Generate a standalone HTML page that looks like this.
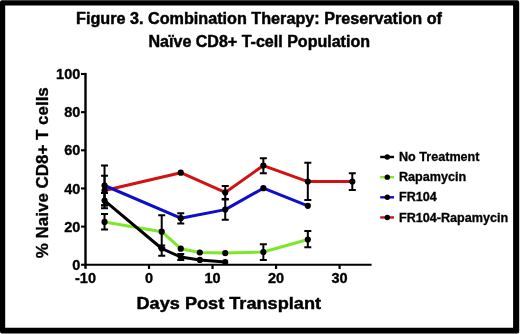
<!DOCTYPE html>
<html><head><meta charset="utf-8"><style>
html,body{margin:0;padding:0;background:#fff;}
body{width:520px;height:334px;position:relative;overflow:hidden;}
svg{position:absolute;left:0;top:0;will-change:transform;}
text{font-family:"Liberation Sans",sans-serif;font-weight:bold;fill:#000;}
.tl{font-size:14.5px;stroke:#000;stroke-width:0.35px;}
.lg{font-size:12.6px;stroke:#000;stroke-width:0.3px;}
.ti{font-size:16px;stroke:#000;stroke-width:0.45px;}
.xl{font-size:17.3px;stroke:#000;stroke-width:0.45px;}
.yl{font-size:17px;stroke:#000;stroke-width:0.35px;}
</style></head><body>
<svg width="520" height="334" viewBox="0 0 520 334">
<text x="76.0" y="23.8" class="ti" textLength="366" lengthAdjust="spacingAndGlyphs">Figure 3. Combination Therapy: Preservation of</text>
<text x="148.5" y="46.5" class="ti" textLength="221.5" lengthAdjust="spacingAndGlyphs">Naïve CD8+ T-cell Population</text>
<path fill="#000" fill-rule="evenodd" d="M2,0.2H517.2A2,2 0 0 1 519.2,2.2V331.5A2,2 0 0 1 517.2,333.5H2A2,2 0 0 1 0,331.5V2.2A2,2 0 0 1 2,0.2Z M5.2,5.6V327.7H513.1V5.6Z"/>
<path d="M85.5,72.9V268.8" stroke="#000" stroke-width="2.4" fill="none"/>
<path d="M84.3,264.75H371.6" stroke="#000" stroke-width="2.2" fill="none"/>
<path d="M81.0,264.75H86" stroke="#000" stroke-width="2.1" fill="none"/>
<text x="80.3" y="269.85" text-anchor="end" class="tl">0</text>
<path d="M81.0,226.60H86" stroke="#000" stroke-width="2.1" fill="none"/>
<text x="80.3" y="231.70" text-anchor="end" class="tl">20</text>
<path d="M81.0,188.45H86" stroke="#000" stroke-width="2.1" fill="none"/>
<text x="80.3" y="193.55" text-anchor="end" class="tl">40</text>
<path d="M81.0,150.30H86" stroke="#000" stroke-width="2.1" fill="none"/>
<text x="80.3" y="155.40" text-anchor="end" class="tl">60</text>
<path d="M81.0,112.15H86" stroke="#000" stroke-width="2.1" fill="none"/>
<text x="80.3" y="117.25" text-anchor="end" class="tl">80</text>
<path d="M81.0,74.00H86" stroke="#000" stroke-width="2.1" fill="none"/>
<text x="80.3" y="79.10" text-anchor="end" class="tl">100</text>
<path d="M149.00,264.5V269.0" stroke="#000" stroke-width="2.2" fill="none"/>
<path d="M212.53,264.5V269.0" stroke="#000" stroke-width="2.2" fill="none"/>
<path d="M276.06,264.5V269.0" stroke="#000" stroke-width="2.2" fill="none"/>
<path d="M339.59,264.5V269.0" stroke="#000" stroke-width="2.2" fill="none"/>
<text x="85.47" y="282.8" text-anchor="middle" class="tl">-10</text>
<text x="149.00" y="282.8" text-anchor="middle" class="tl">0</text>
<text x="212.53" y="282.8" text-anchor="middle" class="tl">10</text>
<text x="276.06" y="282.8" text-anchor="middle" class="tl">20</text>
<text x="339.59" y="282.8" text-anchor="middle" class="tl">30</text>
<path d="M104.53,190.50 L180.76,172.70 L225.24,192.40 L263.35,165.60 L307.82,181.60 L352.30,181.50" fill="none" stroke="#d01212" stroke-width="3.0" stroke-linejoin="round"/>
<path d="M104.53,185.50 L180.76,218.20 L225.24,209.60 L263.35,188.20 L307.82,205.80" fill="none" stroke="#0e0ec8" stroke-width="3.0" stroke-linejoin="round"/>
<path d="M104.53,221.90 L161.71,231.70 L180.76,248.70 L199.82,252.50 L225.24,253.10 L263.35,252.00 L307.82,239.50" fill="none" stroke="#7ce82a" stroke-width="3.0" stroke-linejoin="round"/>
<path d="M104.53,200.60 L161.71,248.50 L180.76,257.00 L199.82,259.90 L225.24,262.00" fill="none" stroke="#000000" stroke-width="3.0" stroke-linejoin="round"/>
<path d="M104.53,175.80V205.20M101.03,175.80H108.03M101.03,205.20H108.03" stroke="#000" stroke-width="2" fill="none"/>
<path d="M225.24,186.10V199.10M221.74,186.10H228.74M221.74,199.10H228.74" stroke="#000" stroke-width="2" fill="none"/>
<path d="M263.35,158.30V173.20M259.85,158.30H266.85M259.85,173.20H266.85" stroke="#000" stroke-width="2" fill="none"/>
<path d="M307.82,162.70V199.90M304.32,162.70H311.32M304.32,199.90H311.32" stroke="#000" stroke-width="2" fill="none"/>
<path d="M352.30,173.20V190.10M348.80,173.20H355.80M348.80,190.10H355.80" stroke="#000" stroke-width="2" fill="none"/>
<path d="M104.53,165.40V205.60M101.03,165.40H108.03M101.03,205.60H108.03" stroke="#000" stroke-width="2" fill="none"/>
<path d="M180.76,213.20V223.60M177.26,213.20H184.26M177.26,223.60H184.26" stroke="#000" stroke-width="2" fill="none"/>
<path d="M225.24,199.40V219.80M221.74,199.40H228.74M221.74,219.80H228.74" stroke="#000" stroke-width="2" fill="none"/>
<path d="M104.53,214.10V229.40M101.03,214.10H108.03M101.03,229.40H108.03" stroke="#000" stroke-width="2" fill="none"/>
<path d="M161.71,215.30V248.10M158.21,215.30H165.21M158.21,248.10H165.21" stroke="#000" stroke-width="2" fill="none"/>
<path d="M263.35,244.30V260.10M259.85,244.30H266.85M259.85,260.10H266.85" stroke="#000" stroke-width="2" fill="none"/>
<path d="M307.82,231.00V247.20M304.32,231.00H311.32M304.32,247.20H311.32" stroke="#000" stroke-width="2" fill="none"/>
<path d="M104.53,193.00V208.20M101.03,193.00H108.03M101.03,208.20H108.03" stroke="#000" stroke-width="2" fill="none"/>
<path d="M161.71,245.40V255.80M158.21,245.40H165.21M158.21,255.80H165.21" stroke="#000" stroke-width="2" fill="none"/>
<path d="M180.76,253.90V260.10M177.26,253.90H184.26M177.26,260.10H184.26" stroke="#000" stroke-width="2" fill="none"/>
<circle cx="104.53" cy="190.50" r="3.1" fill="#000"/>
<circle cx="180.76" cy="172.70" r="3.1" fill="#000"/>
<circle cx="225.24" cy="192.40" r="3.1" fill="#000"/>
<circle cx="263.35" cy="165.60" r="3.1" fill="#000"/>
<circle cx="307.82" cy="181.60" r="3.1" fill="#000"/>
<circle cx="352.30" cy="181.50" r="3.1" fill="#000"/>
<circle cx="104.53" cy="185.50" r="3.1" fill="#000"/>
<circle cx="180.76" cy="218.20" r="3.1" fill="#000"/>
<circle cx="225.24" cy="209.60" r="3.1" fill="#000"/>
<circle cx="263.35" cy="188.20" r="3.1" fill="#000"/>
<circle cx="307.82" cy="205.80" r="3.1" fill="#000"/>
<circle cx="104.53" cy="221.90" r="3.1" fill="#000"/>
<circle cx="161.71" cy="231.70" r="3.1" fill="#000"/>
<circle cx="180.76" cy="248.70" r="3.1" fill="#000"/>
<circle cx="199.82" cy="252.50" r="3.1" fill="#000"/>
<circle cx="225.24" cy="253.10" r="3.1" fill="#000"/>
<circle cx="263.35" cy="252.00" r="3.1" fill="#000"/>
<circle cx="307.82" cy="239.50" r="3.1" fill="#000"/>
<circle cx="104.53" cy="200.60" r="3.1" fill="#000"/>
<circle cx="161.71" cy="248.50" r="3.1" fill="#000"/>
<circle cx="180.76" cy="257.00" r="3.1" fill="#000"/>
<circle cx="199.82" cy="259.90" r="3.1" fill="#000"/>
<circle cx="225.24" cy="262.00" r="3.1" fill="#000"/>
<path d="M380.2,157.00H394.0" stroke="#000000" stroke-width="2.4"/>
<circle cx="387.3" cy="157.00" r="2.7" fill="#000"/>
<text x="399" y="161.10" class="lg">No Treatment</text>
<path d="M380.2,177.15H394.0" stroke="#7ce82a" stroke-width="2.4"/>
<circle cx="387.3" cy="177.15" r="2.7" fill="#000"/>
<text x="399" y="181.25" class="lg">Rapamycin</text>
<path d="M380.2,197.30H394.0" stroke="#0e0ec8" stroke-width="2.4"/>
<circle cx="387.3" cy="197.30" r="2.7" fill="#000"/>
<text x="399" y="201.40" class="lg">FR104</text>
<path d="M380.2,217.45H394.0" stroke="#d01212" stroke-width="2.4"/>
<circle cx="387.3" cy="217.45" r="2.7" fill="#000"/>
<text x="399" y="221.55" class="lg">FR104-Rapamycin</text>
<text x="136.5" y="308.5" class="xl" textLength="184.5" lengthAdjust="spacingAndGlyphs">Days Post Transplant</text>
<text transform="translate(48.3,258.2) rotate(-90)" class="yl" textLength="171" lengthAdjust="spacingAndGlyphs">% Naive CD8+ T cells</text>
</svg>
</body></html>
